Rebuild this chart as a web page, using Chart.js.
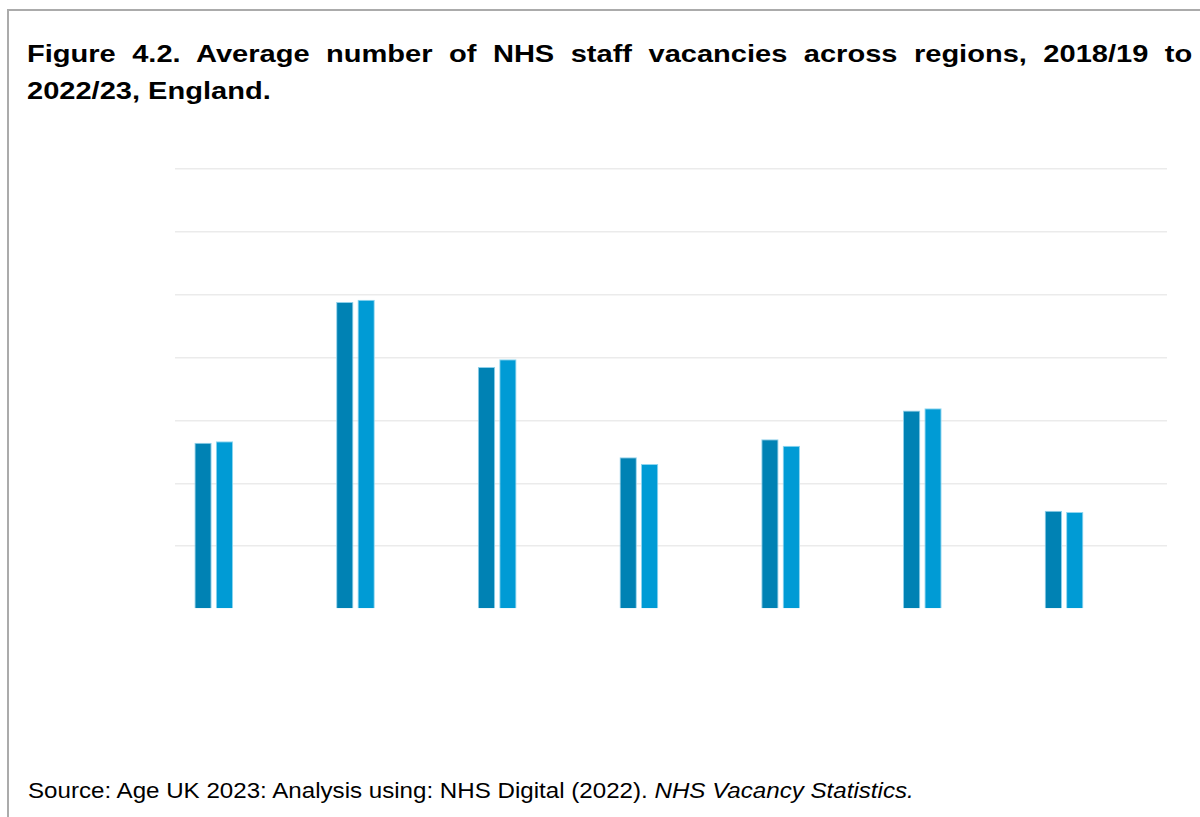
<!DOCTYPE html>
<html>
<head>
<meta charset="utf-8">
<script src="https://cdn.jsdelivr.net/npm/chart.js@4"></script>
<style>
  html, body { margin: 0; padding: 0; background: #fff; }
  body { width: 1200px; height: 817px; position: relative; overflow: hidden;
         font-family: "Liberation Sans", Arial, sans-serif; color: #000; }
  .frame { position: absolute; left: 7px; top: 9px; width: 1300px; height: 900px;
           border-left: 2px solid #ababab; border-top: 2px solid #ababab; }
  .title { position: absolute; left: 27px; width: 963px; font-weight: bold; font-size: 24px; line-height: 36.5px;
           transform: scaleX(1.21); transform-origin: 0 0; }
  .title .l1 { text-align: justify; text-align-last: justify; }
  .source { position: absolute; left: 28px; top: 780px; font-size: 22px; line-height: 22px; white-space: nowrap;
            transform: scaleX(1.097); transform-origin: 0 0; }
  .chart-box { position: absolute; left: 165px; top: 159px; width: 1012px; height: 460px; }
</style>
</head>
<body>
<div class="frame"></div>
<div class="title" style="top:36px">
  <div class="l1">Figure 4.2. Average number of NHS staff vacancies across regions, 2018/19 to</div>
  <div>2022/23, England.</div>
</div>
<div class="chart-box"><canvas id="chart1"></canvas></div>
<div class="source">Source: Age UK 2023: Analysis using: NHS Digital (2022). <i>NHS Vacancy Statistics.</i></div>

<script>
const regions = ["East of England", "London", "Midlands", "North East and Yorkshire",
  "North West", "South East", "South West"];

// values (grid step 5,000)
const series1 = [13230, 24420, 19250, 12070, 13500, 15780, 7820];
const series2 = [13340, 24600, 19860, 11530, 12990, 15960, 7720];
// empty slots that keep the bars where the original puts them
const blank = [null, null, null, null, null, null, null];

const yMax = 35000;
const yStep = 5000;

const ctx = document.getElementById("chart1");
const chart = new Chart(ctx, {
  type: "bar",
  data: {
    labels: regions,
    datasets: [
      { label: "Series 1", data: series1, backgroundColor: "#0082b4", borderColor: "#8fd0ea", borderWidth: 1 },
      { label: "Series 2", data: series2, backgroundColor: "#009bd5", borderColor: "#8fd6f0", borderWidth: 1 },
      { label: "", data: blank },
      { label: "", data: blank },
      { label: "", data: blank },
    ],
  },
  options: {
    responsive: true,
    maintainAspectRatio: false,
    animation: false,
    layout: { padding: 10 },
    datasets: { bar: { categoryPercentage: 0.755, barPercentage: 0.81 } },
    scales: {
      x: { display: false },
      y: {
        min: 0,
        max: yMax,
        ticks: { display: false, stepSize: yStep },
        grid: {
          color: (c) => (c.tick && c.tick.value === 0 ? "rgba(0,0,0,0)" : "#ebebeb"),
          lineWidth: 1.5,
          drawTicks: false,
        },
        border: { display: false },
      },
    },
    plugins: {
      legend: { display: false },
      tooltip: { enabled: false },
    },
  },
});
</script>
</body>
</html>
